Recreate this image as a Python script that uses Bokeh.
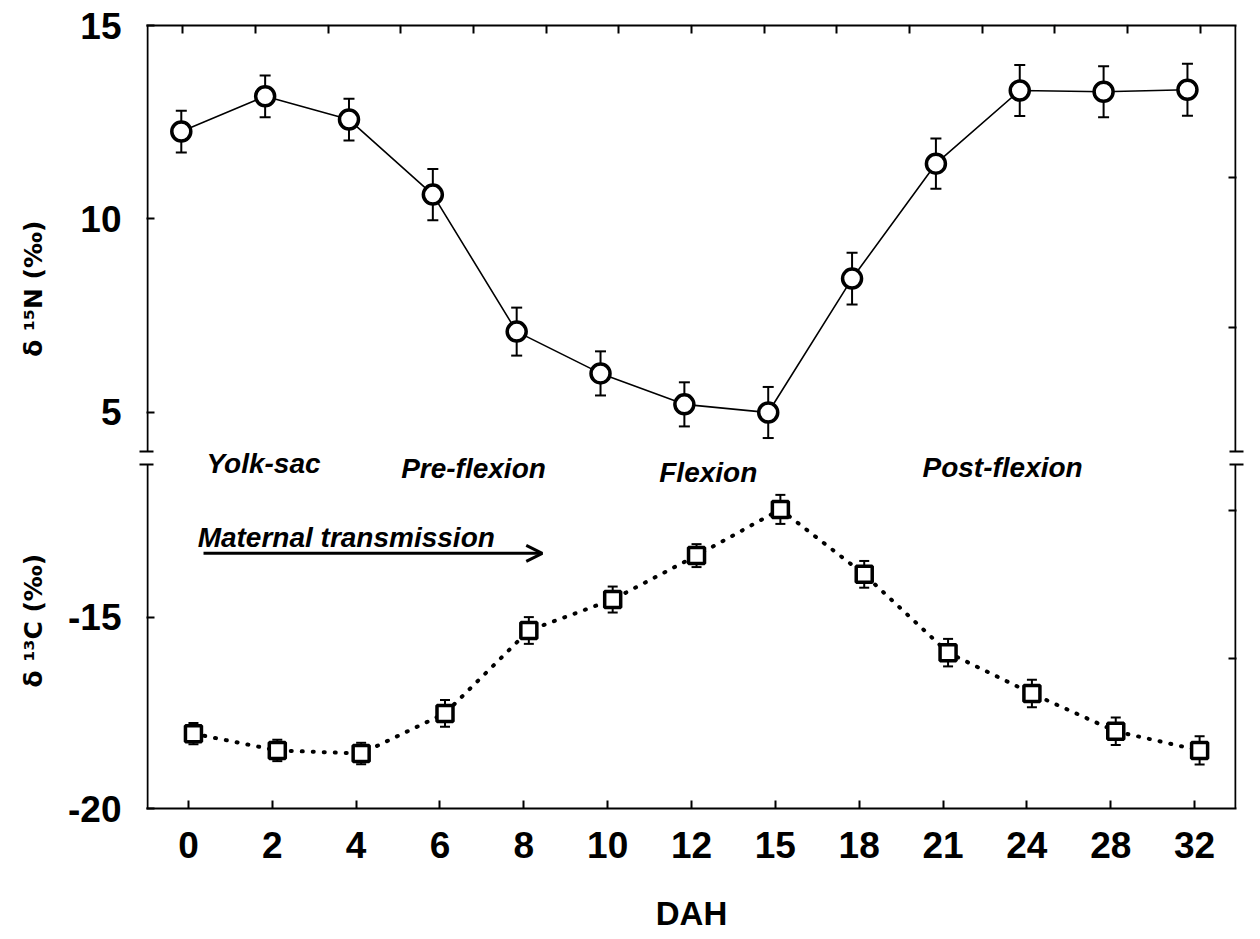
import numpy as np
from bokeh.plotting import figure
from bokeh.layouts import row
from bokeh.models import (Range1d, FactorRange, LinearAxis, CategoricalAxis, FixedTicker,
                          Arrow, OpenHead, Label, ColumnDataSource, CustomJSTickFormatter)
from bokeh.transform import dodge
from bokeh.embed import file_html
from bokeh.resources import INLINE

# ---------------- data ----------------
days = ["0", "2", "4", "6", "8", "10", "12", "15", "18", "21", "24", "28", "32"]
d15n = [12.26, 13.17, 12.57, 10.63, 7.09, 6.01, 5.21, 5.00, 8.46, 11.43, 13.32, 13.29, 13.34]
d15n_err = [0.54, 0.54, 0.54, 0.66, 0.62, 0.57, 0.57, 0.66, 0.67, 0.65, 0.66, 0.66, 0.67]
d13c = [-18.04, -18.48, -18.56, -17.51, -15.34, -14.53, -13.38, -12.17, -13.87, -15.92, -16.99, -17.98, -18.48]
d13c_err = [0.28, 0.28, 0.28, 0.35, 0.35, 0.34, 0.30, 0.38, 0.35, 0.36, 0.36, 0.36, 0.37]

left_ticks_c13 = [-20, -15]
left_ticks_n15 = [5, 10, 15]
right_ticks_n15 = [11.07, 7.2]
right_ticks_c13 = [-12.2, -16.07]
top_ticks = ["t%d" % i for i in range(15)]

phases = ["Yolk-sac", "Pre-flexion", "Flexion", "Post-flexion"]
phase_x = [1.395, 3.90, 6.70, 10.21]
phase_y = [-10.97, -11.10, -11.20, -11.07]

ytitle_n15 = "δ ¹⁵N (‰)"
ytitle_c13 = "δ ¹³C (‰)"
xtitle = "DAH"

FONT = "Liberation Sans"
TITLE_FONT = "DejaVu Sans"
N_LO, N_HI = 4.0, 15.0      # visible part of the d15N panel
C_LO, C_HI = -20.0, -11.0   # visible part of the d13C panel
B0, B1 = -20.0, 0.497       # scale range carrying the d13C panel
T0, T1 = -5.233, 15.0       # scale range carrying the d15N panel
TOP, BOTTOM = 25, 131       # borders (px)
TITLE_W = 60


def to_bot(v):
    t = B0 + (v - T0) * (B1 - B0) / (T1 - T0)
    return min(t, B1 - 1e-9)


src = ColumnDataSource(dict(
    day=days,
    n=d15n,
    n_lo=[a - b for a, b in zip(d15n, d15n_err)],
    n_hi=[a + b for a, b in zip(d15n, d15n_err)],
    c=d13c,
    c_lo=[a - b for a, b in zip(d13c, d13c_err)],
    c_hi=[a + b for a, b in zip(d13c, d13c_err)],
))

p = figure(width=1260 - TITLE_W, height=939, x_range=FactorRange(factors=days),
           y_range=Range1d(B0, B1),
           output_backend="svg", toolbar_location=None,
           x_axis_location=None, y_axis_location=None,
           min_border_left=146 - TITLE_W, min_border_right=24,
           min_border_top=TOP, min_border_bottom=BOTTOM)
p.extra_y_ranges = {"n15": Range1d(T0, T1)}
p.extra_x_ranges = {"top": FactorRange(factors=top_ticks)}
p.outline_line_color = None
p.background_fill_color = "white"
p.border_fill_color = "white"
for g in p.grid:
    g.visible = False

label_style = dict(major_label_text_font=FONT, major_label_text_font_size="37px",
                   major_label_text_font_style="bold", major_label_text_color="black")
tick_style = dict(major_tick_in=8, major_tick_out=0, major_tick_line_width=2,
                  major_tick_line_color="black")
minor_style = dict(minor_tick_in=7, minor_tick_out=7, minor_tick_line_width=2,
                   minor_tick_line_color="black")
blank = CustomJSTickFormatter(code="return ''")

# bottom axis
bottom = CategoricalAxis(axis_line_width=2, axis_line_color="black",
                         major_label_standoff=23,
                         axis_label=xtitle, axis_label_text_font=FONT,
                         axis_label_text_font_size="33px", axis_label_text_font_style="bold",
                         axis_label_text_color="black", axis_label_standoff=34,
                         **label_style, **tick_style)
p.add_layout(bottom, "below")

# top axis (unlabelled ticks)
top = CategoricalAxis(x_range_name="top", major_label_overrides={t: "" for t in top_ticks},
                      axis_line_width=2, axis_line_color="black", major_label_standoff=0,
                      major_label_text_font_size="1px", **tick_style)
p.add_layout(top, "above")

# left axis (both panels)
lt = left_ticks_c13 + [to_bot(v) for v in left_ticks_n15]
overrides = {t: str(v) for t, v in zip(lt, left_ticks_c13 + left_ticks_n15)}
left = LinearAxis(ticker=FixedTicker(ticks=lt, minor_ticks=[C_HI, to_bot(N_LO)]),
                  major_label_overrides=overrides, axis_line_color=None,
                  major_label_standoff=18, **label_style, **tick_style, **minor_style)
p.add_layout(left, "left")

# right axis (unlabelled)
rt = [to_bot(v) for v in right_ticks_n15] + right_ticks_c13
right = LinearAxis(ticker=FixedTicker(ticks=rt, minor_ticks=[C_HI, to_bot(N_LO)]),
                   formatter=blank, axis_line_color=None, major_label_standoff=0,
                   major_label_text_font_size="1px", **tick_style, **minor_style)
p.add_layout(right, "right")

# broken side lines of the frame
edge = 1.0 / 83.85
xs = [edge, len(days) - edge]
p.segment(x0=xs, x1=xs, y0=[N_LO] * 2, y1=[N_HI] * 2, y_range_name="n15",
          line_width=2, line_color="black")
p.segment(x0=xs, x1=xs, y0=[C_LO] * 2, y1=[C_HI] * 2, line_width=2, line_color="black")

xn = dodge("day", -0.085, range=p.x_range)
xc = dodge("day", 0.06, range=p.x_range)

# d15N series
p.segment(x0=xn, x1=xn, y0="n_lo", y1="n_hi", source=src, y_range_name="n15",
          line_width=2, line_color="black")
p.scatter(x=xn, y="n_lo", source=src, y_range_name="n15", marker="dash", size=11,
          line_width=2, line_color="black")
p.scatter(x=xn, y="n_hi", source=src, y_range_name="n15", marker="dash", size=11,
          line_width=2, line_color="black")
p.line(x=xn, y="n", source=src, y_range_name="n15", line_width=1.6, line_color="black")
p.scatter(x=xn, y="n", source=src, y_range_name="n15", marker="circle", size=19,
          fill_color="white", line_color="black", line_width=3.5)

# d13C series
p.segment(x0=xc, x1=xc, y0="c_lo", y1="c_hi", source=src, line_width=2, line_color="black")
p.scatter(x=xc, y="c_lo", source=src, marker="dash", size=10, line_width=2, line_color="black")
p.scatter(x=xc, y="c_hi", source=src, marker="dash", size=10, line_width=2, line_color="black")
p.line(x=xc, y="c", source=src, line_width=4, line_color="black", line_dash="1 10",
       line_cap="round")
p.scatter(x=xc, y="c", source=src, marker="square", size=16,
          fill_color="white", line_color="black", line_width=3.5)

# phase labels
for txt, x, y in zip(phases, phase_x, phase_y):
    p.add_layout(Label(x=x, y=y, text=txt, text_align="center", text_baseline="alphabetic",
                       text_font=FONT, text_font_size="28px", text_font_style="bold italic",
                       text_color="black"))

p.add_layout(Label(x=0.61, y=-12.9, text="Maternal transmission", text_align="left",
                   text_baseline="alphabetic", text_font=FONT, text_font_size="28px",
                   text_font_style="bold italic", text_color="black"))
p.add_layout(Arrow(x_start=0.68, y_start=-13.32, x_end=4.72, y_end=-13.32,
                   line_width=3, line_color="black",
                   end=OpenHead(size=16, line_width=3, line_color="black")))

# ---------------- y-axis titles (narrow strip left of the plot) ----------------
t = figure(width=TITLE_W, height=939, x_range=Range1d(0, TITLE_W), y_range=Range1d(B0, B1),
           output_backend="svg", toolbar_location=None,
           x_axis_location=None, y_axis_location=None,
           min_border_left=0, min_border_right=0, min_border_top=TOP, min_border_bottom=BOTTOM)
t.extra_y_ranges = {"n15": Range1d(T0, T1)}
t.outline_line_color = None
for g in t.grid:
    g.visible = False
t.add_layout(Label(x=33, y=8.2, y_range_name="n15", text=ytitle_n15, angle=np.pi / 2,
                   text_align="center", text_baseline="middle", text_font=TITLE_FONT,
                   text_font_size="25px", text_font_style="bold", text_color="black"))
t.add_layout(Label(x=33, y=-15.08, text=ytitle_c13, angle=np.pi / 2,
                   text_align="center", text_baseline="middle", text_font=TITLE_FONT,
                   text_font_size="25px", text_font_style="bold", text_color="black"))

layout = row(t, p)
open("out.html", "w").write(file_html(layout, INLINE))
